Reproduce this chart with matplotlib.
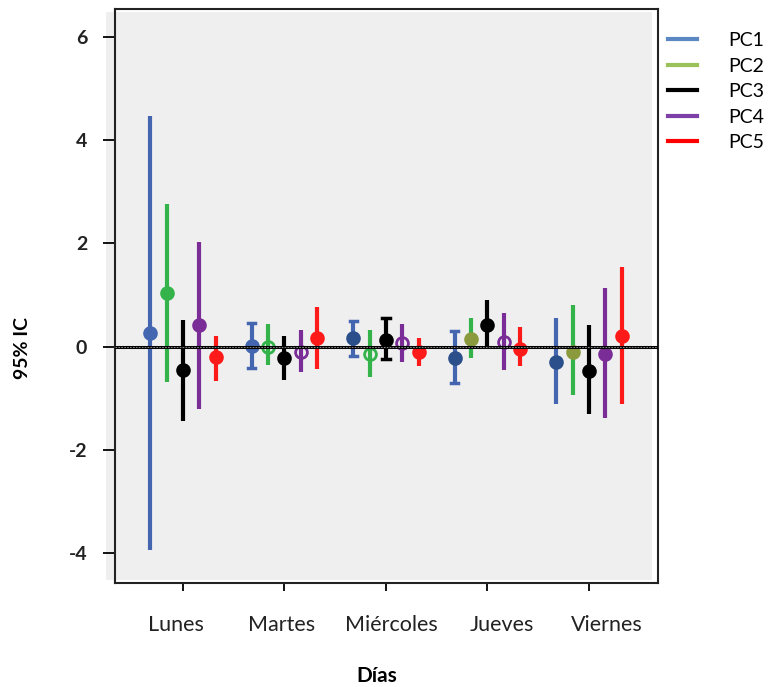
import numpy as np
import matplotlib.pyplot as plt
from matplotlib.patches import Rectangle
from matplotlib.lines import Line2D

# datos: media e IC 95% por dia y componente
dias = ['Lunes', 'Martes', 'Miércoles', 'Jueves', 'Viernes']
series = ['PC1', 'PC2', 'PC3', 'PC4', 'PC5']

media = {
    'PC1': [0.27, 0.02, 0.17, -0.22, -0.29],
    'PC2': [1.04, 0.00, -0.14, 0.15, -0.10],
    'PC3': [-0.46, -0.23, 0.12, 0.41, -0.47],
    'PC4': [0.41, -0.10, 0.07, 0.09, -0.14],
    'PC5': [-0.21, 0.17, -0.10, -0.04, 0.21],
}
ic_sup = {
    'PC1': [4.47, 0.46, 0.50, 0.31, 0.56],
    'PC2': [2.77, 0.44, 0.33, 0.56, 0.80],
    'PC3': [0.52, 0.21, 0.56, 0.91, 0.41],
    'PC4': [2.03, 0.33, 0.44, 0.66, 1.14],
    'PC5': [0.21, 0.77, 0.17, 0.37, 1.55],
}
ic_inf = {
    'PC1': [-3.94, -0.41, -0.18, -0.70, -1.12],
    'PC2': [-0.68, -0.35, -0.58, -0.22, -0.93],
    'PC3': [-1.45, -0.65, -0.25, 0.00, -1.31],
    'PC4': [-1.20, -0.49, -0.30, -0.46, -1.39],
    'PC5': [-0.66, -0.43, -0.38, -0.38, -1.12],
}
yticks = [-4, -2, 0, 2, 4, 6]

colores = {'PC1': '#4466b0', 'PC2': '#33b34a', 'PC3': '#000000',
           'PC4': '#7a2d96', 'PC5': '#ff1a1a'}
colores_leyenda = {'PC1': '#5b87c5', 'PC2': '#9bc25a', 'PC3': '#000000',
                   'PC4': '#7d3fa8', 'PC5': '#ff0000'}
# algunos puntos salen con otro tono o huecos en la figura original
color_punto = {
    'PC1': ['#4466b0', '#4466b0', '#2b4f8a', '#2b4f8a', '#2b4f8a'],
    'PC2': ['#33b34a', '#33b34a', '#33b34a', '#8a9a3c', '#8a9a3c'],
    'PC3': ['#000000'] * 5,
    'PC4': ['#7a2d96'] * 5,
    'PC5': ['#ff1a1a'] * 5,
}
hueco = {
    'PC1': [0, 0, 0, 0, 0],
    'PC2': [0, 1, 1, 0, 0],
    'PC3': [0, 0, 0, 0, 0],
    'PC4': [0, 1, 1, 1, 0],
    'PC5': [0, 0, 0, 0, 0],
}
con_tope = {
    'PC1': [0, 1, 1, 1, 0],
    'PC2': [0, 0, 0, 0, 0],
    'PC3': [0, 0, 1, 0, 0],
    'PC4': [0, 0, 0, 0, 0],
    'PC5': [0, 0, 0, 0, 0],
}

plt.rcParams['font.family'] = ['Lato', 'DejaVu Sans']

fig = plt.figure(figsize=(7.69, 6.87), dpi=100)
W, H = 769, 687
ax = fig.add_axes([115 / W, 1 - 583 / H, 543 / W, 574 / H])
ax.set_facecolor('none')

# fondo gris desplazado respecto al marco, como en el original
fig.patches.append(Rectangle((106 / W, 1 - 580 / H), 546 / W, 568 / H,
                             transform=fig.transFigure, facecolor='#efefef',
                             edgecolor='none', zorder=-5))

x = np.arange(1, len(dias) + 1)
desp = 0.162
for i, s in enumerate(series):
    xs = x + (i - 2) * desp
    for j in range(len(dias)):
        ax.plot([xs[j], xs[j]], [ic_inf[s][j], ic_sup[s][j]],
                color=colores[s], lw=3, solid_capstyle='butt', zorder=3)
        if con_tope[s][j]:
            for yv in (ic_inf[s][j], ic_sup[s][j]):
                ax.plot([xs[j] - 0.035, xs[j] + 0.035], [yv, yv],
                        color=colores[s], lw=2.5, zorder=3)
        fc = 'none' if hueco[s][j] else color_punto[s][j]
        ax.plot(xs[j], media[s][j], 'o', ms=8.5, mfc=fc,
                mec=color_punto[s][j], mew=2, zorder=4)

ax.axhline(0, color='black', lw=2.2, zorder=5)
ax.axhline(0, color='#9a9a9a', lw=0.6, ls=(0, (2, 1.5)), zorder=6)

ax.set_xlim(0.33, 5.68)
ax.set_ylim(-4.58, 6.54)
ax.set_xticks(x)
ax.set_xticklabels([])
# en el original las etiquetas no quedan centradas en las marcas
corr = [-0.07, -0.03, 0.05, 0.14, 0.18]
for xi, d, c in zip(x, dias, corr):
    ax.text(xi + c, -0.074, d, transform=ax.get_xaxis_transform(),
            ha='center', va='center', fontsize=15.5, color='#222222')
ax.set_yticks(yticks)
ax.set_yticklabels([str(v) for v in yticks], fontsize=14,
                   fontweight='bold', color='#222222')
ax.tick_params(axis='y', length=9, width=1.3, pad=11)
ax.tick_params(axis='x', length=6, width=1.3)
for sp in ax.spines.values():
    sp.set_linewidth(1.5)
    sp.set_color('#222222')

fig.text(377 / W, 1 - 676 / H, 'Días', ha='center', va='center',
         fontsize=15, fontweight='bold')
fig.text(22 / W, 1 - 348 / H, '95% IC', rotation=90, ha='center',
         va='center', fontsize=14, fontweight='bold')

handles = [Line2D([0], [0], color=colores_leyenda[s], lw=3) for s in series]
fig.legend(handles, series, loc='upper left',
           bbox_to_anchor=(668 / W, 1 - 32 / H), frameon=False,
           fontsize=14, handlelength=1.5, handletextpad=1.6,
           labelspacing=0.44, borderpad=0, borderaxespad=0)

fig.savefig('out.png', dpi=100)
